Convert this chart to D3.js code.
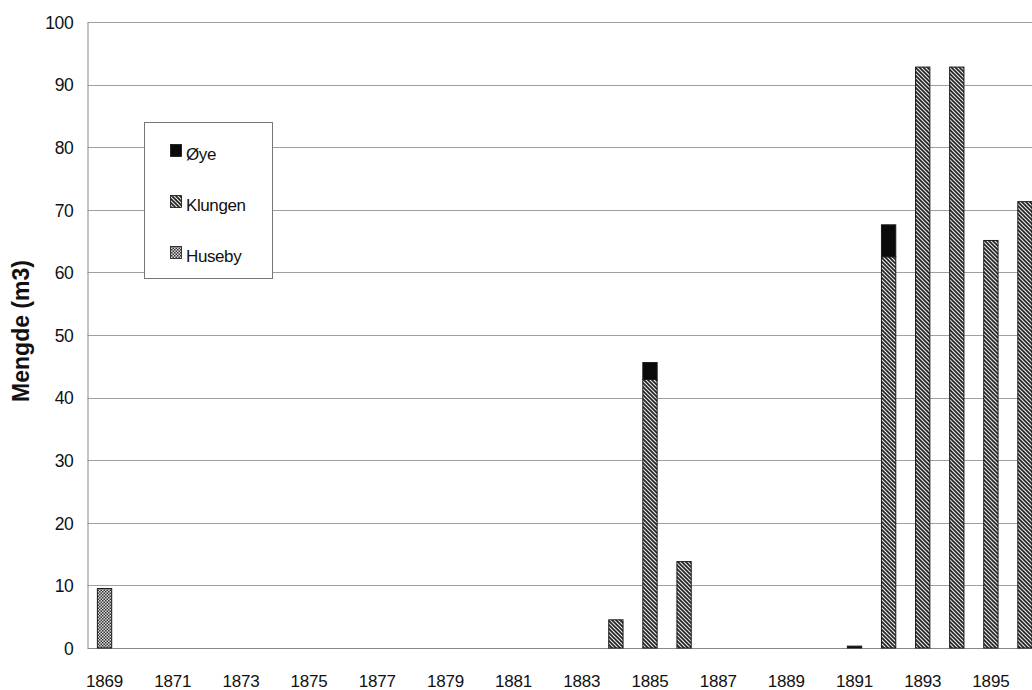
<!DOCTYPE html>
<html>
<head>
<meta charset="utf-8">
<script src="https://cdn.jsdelivr.net/npm/d3@7"></script>
<style>
  html, body { margin: 0; padding: 0; background: #fff; }
  svg { display: block; }
  text { font-family: "Liberation Sans", Arial, sans-serif; fill: #111; }
</style>
</head>
<body>
<div id="chart"></div>
<script>
// Years on the category axis
const years = d3.range(1869, 1897);
// Amounts per source (m3), one value per year
const huseby  = [9.5, 0, 0, 0, 0, 0, 0, 0, 0, 0, 0, 0, 0, 0, 0, 0, 0, 0, 0, 0, 0, 0, 0, 0, 0, 0, 0, 0];
const klungen = [0, 0, 0, 0, 0, 0, 0, 0, 0, 0, 0, 0, 0, 0, 0, 4.5, 42.9, 13.8, 0, 0, 0, 0, 0, 62.5, 92.8, 92.8, 65.1, 71.3];
const oye     = [0, 0, 0, 0, 0, 0, 0, 0, 0, 0, 0, 0, 0, 0, 0, 0, 2.7, 0, 0, 0, 0, 0, 0.3, 5.1, 0, 0, 0, 0];
const seriesNames = ["Huseby", "Klungen", "Øye"];
const legendOrder = ["Øye", "Klungen", "Huseby"];
const yTicks = [0, 10, 20, 30, 40, 50, 60, 70, 80, 90, 100];
const xTickLabels = d3.range(1869, 1897, 2);

const W = 1032, H = 690;
const plotLeft = 87.5, plotTop = 22, plotBottom = 648;
const step = 34.09;

const svg = d3.select("#chart").append("svg").attr("width", W).attr("height", H);

// Fill patterns
const defs = svg.append("defs");
const stripe = defs.append("pattern").attr("id", "pat-klungen")
  .attr("patternUnits", "userSpaceOnUse").attr("width", 4).attr("height", 4);
stripe.append("rect").attr("width", 4).attr("height", 4).attr("fill", "#e8e8e8");
stripe.append("path").attr("d", "M-1,-1 L5,5 M-1,3 L1,5 M3,-1 L5,1")
  .attr("stroke", "#222").attr("stroke-width", 1.6);

const check = defs.append("pattern").attr("id", "pat-huseby")
  .attr("patternUnits", "userSpaceOnUse").attr("width", 3).attr("height", 3);
check.append("rect").attr("width", 3).attr("height", 3).attr("fill", "#ddd");
check.append("rect").attr("width", 1.5).attr("height", 1.5).attr("fill", "#333");
check.append("rect").attr("x", 1.5).attr("y", 1.5).attr("width", 1.5).attr("height", 1.5).attr("fill", "#333");

const fills = { "Huseby": "url(#pat-huseby)", "Klungen": "url(#pat-klungen)", "Øye": "#0a0a0a" };

const x = d3.scaleBand().domain(years)
  .range([plotLeft, plotLeft + step * years.length])
  .paddingInner(0.58).paddingOuter(0.29);
const y = d3.scaleLinear().domain([0, 100]).range([plotBottom, plotTop]);

// Gridlines
svg.append("g").selectAll("line").data(yTicks).join("line")
  .attr("x1", plotLeft).attr("x2", W + 20)
  .attr("y1", d => Math.round(y(d)) + 0.5).attr("y2", d => Math.round(y(d)) + 0.5)
  .attr("stroke", "#a0a0a0").attr("stroke-width", 1);

// Y axis
const yAxis = svg.append("g").attr("transform", `translate(${plotLeft},0)`)
  .call(d3.axisLeft(y).tickValues(yTicks).tickSize(0).tickPadding(14));
yAxis.select(".domain").attr("stroke", "#888");
yAxis.selectAll("text").attr("font-size", 17.5).attr("dy", "0.36em")
  .attr("letter-spacing", -0.3)
  .style("font-family", "Liberation Sans, Arial, sans-serif");

// X axis labels (every other year)
const xAxis = svg.append("g").attr("transform", `translate(0,${plotBottom})`)
  .call(d3.axisBottom(x).tickValues(xTickLabels).tickSize(0).tickPadding(0));
xAxis.select(".domain").attr("stroke", "#888");
xAxis.selectAll("text").attr("font-size", 17).attr("dy", 0).attr("y", 39)
  .attr("letter-spacing", -0.2)
  .style("font-family", "Liberation Sans, Arial, sans-serif");

// Stacked bars
const table = years.map((yr, i) => ({ year: yr, Huseby: huseby[i], Klungen: klungen[i], "Øye": oye[i] }));
const stacked = d3.stack().keys(seriesNames)(table);
svg.append("g").selectAll("g").data(stacked).join("g")
  .attr("fill", d => fills[d.key])
  .selectAll("rect").data(d => d.filter(p => p[1] - p[0] > 0)).join("rect")
  .attr("x", p => x(p.data.year))
  .attr("width", x.bandwidth())
  .attr("y", p => y(p[1]))
  .attr("height", p => y(p[0]) - y(p[1]))
  .attr("stroke", "#1a1a1a").attr("stroke-width", 1);

// Axis title
svg.append("text")
  .attr("transform", `translate(29,331) rotate(-90)`)
  .attr("text-anchor", "middle")
  .attr("font-size", 23).attr("font-weight", "bold")
  .text("Mengde (m3)");

// Legend
const lg = svg.append("g");
lg.append("rect").attr("x", 144.5).attr("y", 122.5).attr("width", 128).attr("height", 156)
  .attr("fill", "#fff").attr("stroke", "#777").attr("stroke-width", 1);
legendOrder.forEach((name, i) => {
  const base = 160 + i * 51;
  lg.append("rect").attr("x", 170.5).attr("y", base - 15.5).attr("width", 11).attr("height", 12)
    .attr("fill", fills[name]).attr("stroke", "#111").attr("stroke-width", 0.8);
  lg.append("text").attr("x", 186).attr("y", base).attr("font-size", 17)
    .attr("letter-spacing", -0.4).text(name);
});
</script>
</body>
</html>
